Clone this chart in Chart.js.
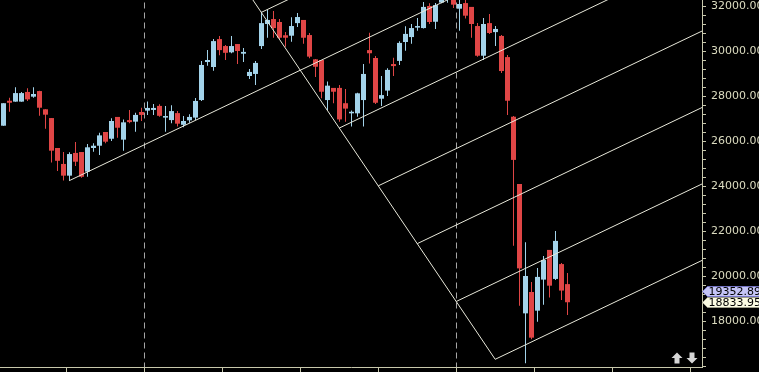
<!DOCTYPE html>
<html>
<head>
<meta charset="utf-8">
<script src="https://cdn.jsdelivr.net/npm/chart.js@4.4.1/dist/chart.umd.min.js"></script>
<style>
  html, body { margin: 0; padding: 0; background: #000; overflow: hidden; }
  canvas { display: block; background: #000; }
</style>
</head>
<body>
<canvas id="chart" width="759" height="372"></canvas>
<script>
// daily candles, one per bar index
const opens = [
  26680, 27790, 27750, 27750, 28180, 27970, 28220, 27410, 27020, 25690,
  24980, 24460, 25470, 25510, 24640, 25690, 25790, 26400, 26100, 27070,
  26060, 26930, 26860, 27290, 27350, 27380, 27560, 27040, 26930, 27240,
  26720, 26920, 27040, 27820, 29510, 29290, 30530, 30220, 29940, 30310,
  29880, 28890, 28980, 30220, 31200, 31420, 31290, 30700, 30680, 31240,
  31380, 30710, 29630, 29600, 27820, 28360, 28360, 27680, 27230, 27230,
  27820, 30040, 29690, 27880, 28240, 29420, 29560, 30400, 30620, 31040,
  31020, 32000, 31300, 32150, 32300, 32400, 31880, 32130, 31960, 31110,
  29790, 31240, 30840, 30670, 29730, 27080, 24090, 18340, 19290, 18460,
  19840, 21160, 19870, 20530, 19640
];
const highs = [
  27680, 27925, 28390, 28180, 28340, 28390, 28230, 27410, 27020, 25690,
  25510, 25500, 25960, 25510, 25870, 25900, 26370, 26400, 27010, 27070,
  26960, 27380, 27260, 27480, 27760, 27640, 27630, 27560, 27590, 27330,
  27110, 27190, 27910, 29560, 30040, 30530, 30670, 30270, 30670, 30310,
  30130, 29200, 29560, 31750, 31820, 31780, 31420, 30840, 31500, 31690,
  31380, 30800, 29640, 29600, 28640, 28360, 28490, 28310, 27360, 28140,
  29420, 30810, 29780, 28890, 29230, 29700, 30430, 31100, 31200, 31470,
  32180, 32120, 32130, 32400, 32500, 32450, 32360, 32270, 31960, 31240,
  31470, 31640, 31110, 30710, 29820, 27110, 24090, 21500, 19730, 20360,
  20890, 21160, 22000, 20580, 20130
];
const lows = [
  26680, 27300, 27740, 27740, 27780, 27920, 27120, 26550, 25040, 24670,
  24240, 24240, 24890, 24370, 24410, 25520, 25380, 25900, 26000, 26150,
  25570, 26790, 26410, 26890, 27160, 27160, 27080, 26410, 26790, 26640,
  26610, 26810, 26930, 27780, 29350, 29120, 29810, 29600, 29900, 29420,
  29510, 28760, 28490, 30090, 30590, 30590, 30530, 30190, 30410, 31070,
  30320, 29680, 28840, 27900, 27380, 27680, 26860, 26860, 26640, 27080,
  26640, 29450, 27640, 27560, 28000, 28890, 29380, 30010, 30320, 30900,
  31000, 31200, 30980, 32120, 32150, 31910, 30900, 31440, 30590, 29750,
  29600, 30760, 30220, 29020, 27160, 21350, 18680, 16120, 17190, 17970,
  18720, 19040, 19820, 18930, 18270
];
const closes = [
  27680, 27700, 28130, 28130, 27850, 28090, 27480, 27170, 25570, 25120,
  24460, 25420, 25080, 24410, 25720, 25790, 26250, 25970, 26890, 26590,
  26830, 26840, 27160, 27160, 27470, 27470, 27120, 27110, 27330, 26770,
  26890, 27070, 27780, 29380, 29600, 30440, 30040, 29920, 30220, 30000,
  29960, 29070, 29470, 31240, 31380, 31020, 30590, 30590, 31110, 31510,
  30590, 29750, 29300, 28190, 28460, 28190, 26960, 27440, 27300, 28120,
  28980, 29900, 27700, 28040, 29160, 29330, 30360, 30760, 31020, 31110,
  31960, 31290, 32040, 32320, 32400, 32060, 32090, 31570, 31200, 29790,
  31200, 30800, 30980, 29110, 27790, 25160, 20340, 20000, 17260, 19960,
  20710, 19570, 21560, 19352.89, 18833.95
];

// hand drawn channel: [x1, price1, x2, price2] in bar index / price units
const channelLines = [
  [81.95, 16298, 117, 20767],
  [75.45, 18867, 117, 24165],
  [68.96, 21438, 117, 27563],
  [62.46, 24007, 117, 30961],
  [55.96, 26576, 117, 34359],
  [10.95, 24236, 117, 37757],
  [42.97, 31716, 117, 41155],
  [81.95, 16298, 38, 33680]
];

const sessionBreaks = [23.5, 75.5];
const xTicks = [10.5, 23.5, 36.5, 49.5, 62.5, 75.5, 88.5, 101.5, 114.5];
const yLabels = [18000, 20000, 22000, 24000, 26000, 28000, 30000, 32000];
const yMinorStep = 400;
const priceTags = [19352.89, 18833.95];
const tagFills = ['#c4c4f6', '#fbfbe2'];
const tagBorders = ['#7474c4', '#9c9c88'];

const axisColor = '#c8c8ac';
const labelColor = '#dcdcc0';
const upColor = '#a3d3ea';
const downColor = '#e04646';

Chart.defaults.font.family = '"DejaVu Sans", sans-serif';
Chart.defaults.font.size = 11;

const idx = closes.map((c, i) => i);
const candleColors = idx.map(i => (closes[i] >= opens[i] ? upColor : downColor));

const lineSets = channelLines.map((s, k) => ({
  type: 'line',
  label: 'channel ' + k,
  data: [{ x: s[0], y: s[1] }, { x: s[2], y: s[3] }],
  borderColor: '#e8e8da',
  borderWidth: 1,
  pointRadius: 0,
  tension: 0,
  order: 0
}));

const breakSets = sessionBreaks.map(b => ({
  type: 'line',
  label: 'break',
  data: [{ x: b, y: 15000 }, { x: b, y: 33000 }],
  borderColor: '#a8a8a8',
  borderWidth: 1,
  borderDash: [6, 4],
  pointRadius: 0,
  order: 4
}));

const overlay = {
  id: 'overlay',
  afterDraw(chart) {
    const { ctx, chartArea } = chart;
    const y = chart.scales.y;
    ctx.save();
    priceTags.forEach((v, i) => {
      const py = Math.round(y.getPixelForValue(v)) + 0.5;
      const x0 = chartArea.right + 0.5;
      ctx.beginPath();
      ctx.moveTo(x0, py);
      ctx.lineTo(x0 + 5, py - 5);
      ctx.lineTo(chart.width + 2, py - 5);
      ctx.lineTo(chart.width + 2, py + 5);
      ctx.lineTo(x0 + 5, py + 5);
      ctx.closePath();
      ctx.fillStyle = tagFills[i];
      ctx.fill();
      ctx.strokeStyle = tagBorders[i];
      ctx.lineWidth = 1;
      ctx.stroke();
      ctx.fillStyle = '#000';
      ctx.font = '11px "DejaVu Sans"';
      ctx.textBaseline = 'middle';
      ctx.textAlign = 'left';
      ctx.fillText(v.toFixed(2), x0 + 6, py + 0.5);
    });

    // scroll arrows, bottom right corner
    const drawArrow = (cx, cy, dir) => {
      ctx.beginPath();
      ctx.moveTo(cx, cy - 5.5 * dir);
      ctx.lineTo(cx + 5.5, cy);
      ctx.lineTo(cx + 2.5, cy);
      ctx.lineTo(cx + 2.5, cy + 5.5 * dir);
      ctx.lineTo(cx - 2.5, cy + 5.5 * dir);
      ctx.lineTo(cx - 2.5, cy);
      ctx.lineTo(cx - 5.5, cy);
      ctx.closePath();
      ctx.fillStyle = '#d6d6d6';
      ctx.fill();
    };
    drawArrow(chartArea.right - 25, chartArea.bottom - 9, 1);
    drawArrow(chartArea.right - 10, chartArea.bottom - 9, -1);
    ctx.restore();
  }
};

new Chart(document.getElementById('chart'), {
  type: 'bar',
  data: {
    datasets: [
      ...lineSets,
      ...breakSets,
      {
        type: 'bar',
        label: 'body',
        data: idx.map(i => ({ x: i, y: [opens[i], closes[i]] })),
        backgroundColor: candleColors,
        borderWidth: 0,
        barThickness: 5,
        minBarLength: 1,
        inflateAmount: 0,
        grouped: false,
        order: 1
      },
      {
        type: 'bar',
        label: 'wick',
        data: idx.map(i => ({ x: i, y: [lows[i], highs[i]] })),
        backgroundColor: candleColors,
        borderWidth: 0,
        barThickness: 1,
        inflateAmount: 0,
        grouped: false,
        order: 2
      }
    ]
  },
  options: {
    responsive: false,
    animation: false,
    layout: { padding: 0 },
    plugins: { legend: { display: false }, tooltip: { enabled: false } },
    scales: {
      x: {
        type: 'linear',
        min: -0.5833,
        max: 116.4167,
        offset: false,
        grid: { drawOnChartArea: false, drawTicks: true, tickLength: 5, tickColor: axisColor, offset: false },
        border: { color: axisColor },
        ticks: { display: false },
        afterBuildTicks: s => { s.ticks = xTicks.map(v => ({ value: v })); },
        afterFit: s => { s.paddingLeft = 0; s.paddingRight = 0; }
      },
      y: {
        position: 'right',
        min: 15956,
        max: 32267,
        grid: { drawOnChartArea: false, tickLength: 4, tickColor: axisColor },
        border: { color: axisColor },
        ticks: {
          color: labelColor,
          padding: 5,
          autoSkip: false,
          callback: v => (yLabels.includes(v) ? v.toFixed(2) : '')
        },
        afterBuildTicks: s => {
          const t = [];
          for (let v = 16000; v <= 32000; v += yMinorStep) t.push({ value: v });
          s.ticks = t;
        },
        afterFit: s => { s.width = 57; s.paddingTop = 0; s.paddingBottom = 0; }
      }
    }
  },
  plugins: [overlay]
});
</script>
</body>
</html>
